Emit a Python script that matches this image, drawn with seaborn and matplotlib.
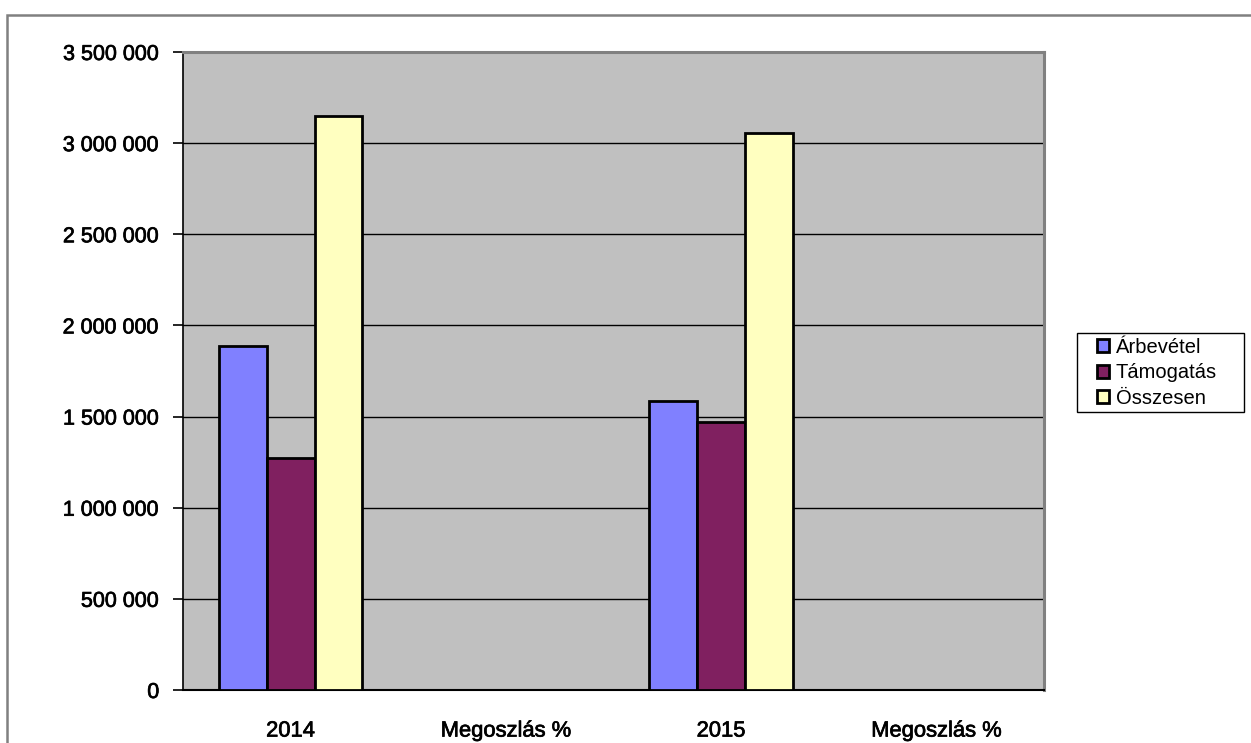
import matplotlib
matplotlib.use("Agg")
import matplotlib.pyplot as plt
import matplotlib.patches as mpatches
import matplotlib.patheffects as pe
from matplotlib.ticker import FuncFormatter, MultipleLocator, FixedLocator
import seaborn as sns
import pandas as pd

categories = ["2014", "Megoszlás %", "2015", "Megoszlás %_2"]
tick_labels = ["2014", "Megoszlás %", "2015", "Megoszlás %"]
series = ["Árbevétel", "Támogatás", "Összesen"]
arbevetel = [1885000, 59.8, 1583000, 51.9]
tamogatas = [1275000, 40.2, 1468000, 48.1]
osszesen = [3150000, 100, 3055000, 100]
colors = ["#8080FF", "#802060", "#FFFFC0"]

rows = []
for name, vals in zip(series, [arbevetel, tamogatas, osszesen]):
    for c, v in zip(categories, vals):
        rows.append({"cat": c, "series": name, "value": v})
df = pd.DataFrame(rows)

sns.set_style("white")
plt.rcParams["font.family"] = ["Liberation Sans", "DejaVu Sans"]

fig = plt.figure(figsize=(12.51, 7.43), dpi=100)
ax = fig.add_axes([183/1251, 1-690/743, (1044-183)/1251, (690-52)/743])

# outer chart border (top and left visible)
fig.patches.append(mpatches.Rectangle((7/1251, -0.1), 1.2, 1-15/743+0.1,
                                      transform=fig.transFigure, fill=False,
                                      edgecolor="#808080", linewidth=1.8))

ax.set_facecolor("#C0C0C0")
sns.barplot(data=df, x="cat", y="value", hue="series", order=categories,
            hue_order=series, palette=colors, width=0.667, gap=0,
            edgecolor="black", linewidth=2.0, saturation=1, ax=ax, legend=False,
            zorder=3)

ax.set_ylim(0, 3500000)
ax.set_xlim(-0.5, 3.5)
ax.yaxis.set_major_locator(MultipleLocator(500000))
ax.yaxis.set_major_formatter(FuncFormatter(lambda v, p: f"{v:,.0f}".replace(",", " ")))
ax.grid(axis="y", color="black", linewidth=1.0, zorder=1)
ax.set_axisbelow(True)
ax.set_xticks(range(4))
ax.set_xticklabels(tick_labels)
ax.xaxis.set_minor_locator(FixedLocator([-0.5, 0.5, 1.5, 2.5, 3.5]))
ax.tick_params(axis="x", which="major", length=0, pad=22, labelsize=15.8)
ax.tick_params(axis="x", which="minor", length=7, width=1.2, color="black", direction="out")
ax.tick_params(axis="y", length=7, width=1.2, color="black", direction="out", pad=10, labelsize=15.5, left=True)
stroke = [pe.withStroke(linewidth=0.5, foreground="black")]
for lbl in ax.get_xticklabels() + ax.get_yticklabels():
    lbl.set_path_effects(stroke)
    lbl.set_color("black")
ax.set_xlabel("")
ax.set_ylabel("")
for s in ["top", "right"]:
    ax.spines[s].set_color("#808080")
    ax.spines[s].set_linewidth(2.2)
ax.spines["left"].set_color("black")
ax.spines["left"].set_linewidth(1.2)
ax.spines["bottom"].set_color("black")
ax.spines["bottom"].set_linewidth(1.5)

# legend frame
fig.patches.append(mpatches.Rectangle((1077/1251, 1-412/743), (1244-1077)/1251, (412-333)/743,
                                      transform=fig.transFigure, fill=True, facecolor="white",
                                      edgecolor="black", linewidth=1.0, zorder=5))
handles = [mpatches.Patch(facecolor=c, edgecolor="black", linewidth=2.0, label=s)
           for c, s in zip(colors, series)]
leg = fig.legend(handles=handles, loc="upper left",
                 bbox_to_anchor=(1097/1251, 1-338/743), fontsize=14.5,
                 frameon=False, handlelength=0.62, handleheight=0.62,
                 handletextpad=0.3, labelspacing=0.32, borderpad=0.0, borderaxespad=0)
leg.set_zorder(6)
for t in leg.get_texts():
    t.set_color("black")

fig.savefig("out.png", dpi=100)
